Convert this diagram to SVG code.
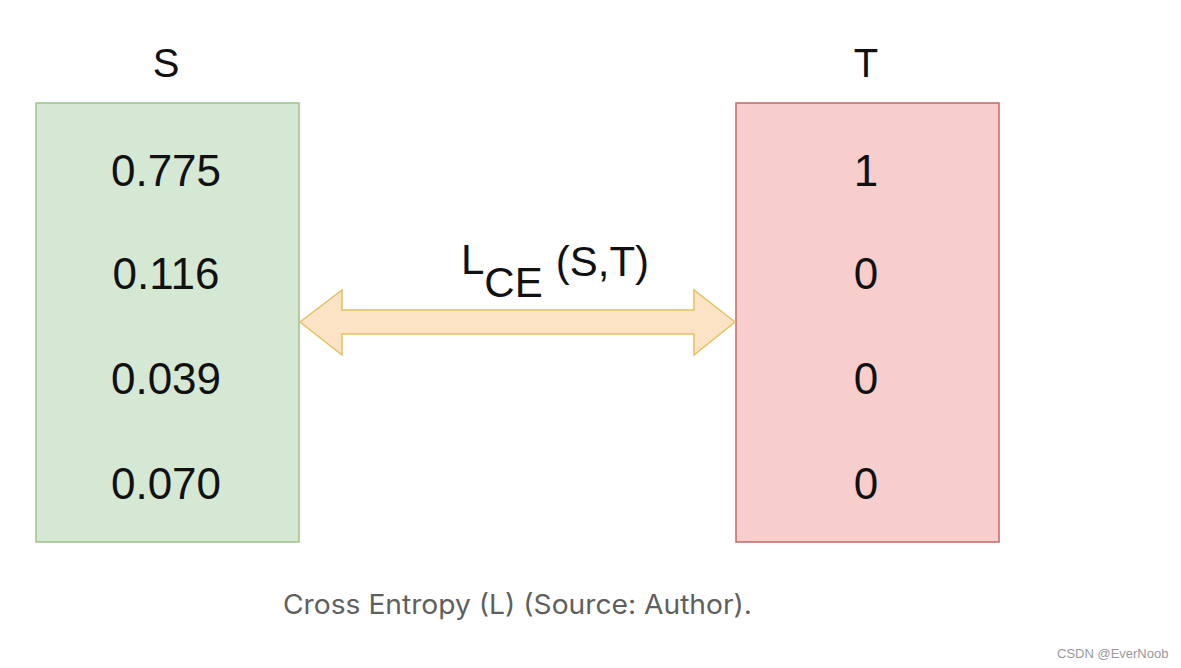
<svg xmlns="http://www.w3.org/2000/svg" width="1181" height="668" viewBox="0 0 1181 668">
<style>
.t{font-family:"Liberation Sans",Arial,sans-serif;fill:#111;text-anchor:middle}
.v{font-size:44px}
.h{font-size:40px}
.cap{font-family:Inter,"Liberation Sans",sans-serif;font-size:27px;fill:#5f5f5f}
.wm{font-family:"Liberation Sans",Arial,sans-serif;font-size:13px;fill:#999}
</style>
<rect width="1181" height="668" fill="#fff"/>
<g id="S">
<text class="t h" x="166" y="77">S</text>
<rect x="36" y="103" width="263" height="439" fill="#d5e8d4" stroke="#9cc28a" stroke-width="1.5"/>
<text class="t v" x="166" y="186">0.775</text>
<text class="t v" x="166" y="289">0.116</text>
<text class="t v" x="166" y="394">0.039</text>
<text class="t v" x="166" y="499">0.070</text>
</g>
<g id="T">
<text class="t h" x="866" y="77">T</text>
<rect x="736" y="103" width="263" height="439" fill="#f8cecc" stroke="#c06a66" stroke-width="1.5"/>
<text class="t v" x="866" y="186">1</text>
<text class="t v" x="866" y="289">0</text>
<text class="t v" x="866" y="394">0</text>
<text class="t v" x="866" y="499">0</text>
</g>
<g id="connectors">
<path d="M300,322 L342,290 L342,310 L694,310 L694,290 L735,322 L694,355 L694,334 L342,334 L342,355 Z" fill="#fde3c6" stroke="#e2c163" stroke-width="1.5" stroke-linejoin="miter"/>
<text class="t" x="461" y="274" style="text-anchor:start;font-size:42px">L<tspan dy="23">CE</tspan><tspan dx="13" dy="-21">(S,T)</tspan></text>
</g>
<text class="cap" x="283" y="614" textLength="469" lengthAdjust="spacingAndGlyphs">Cross Entropy (L) (Source: Author).</text>
<text class="wm" x="1057" y="658">CSDN @EverNoob</text>
</svg>
